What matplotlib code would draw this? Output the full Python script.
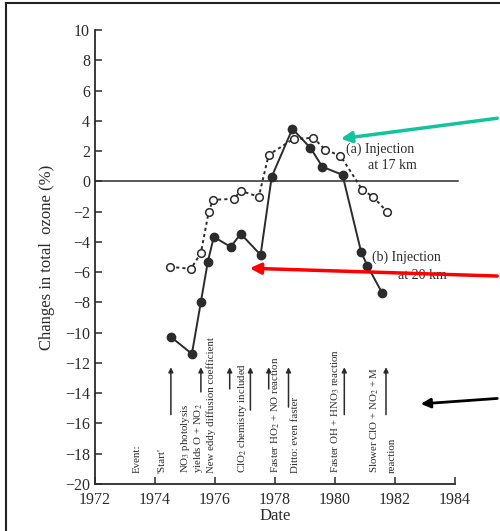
import matplotlib.pyplot as plt
from matplotlib.lines import Line2D

plt.rcParams['font.family'] = 'Liberation Serif'
plt.rcParams['mathtext.fontset'] = 'stix'

ink = '#2b2b2b'

# (a) injection at 17 km - open circles, dotted
years_a = [1974.50, 1975.20, 1975.53, 1975.79, 1975.93, 1976.62, 1976.86, 1977.46,
           1977.79, 1978.62, 1979.28, 1979.68, 1980.18, 1980.91, 1981.27, 1981.74]
ozone_a = [-5.65, -5.78, -4.73, -2.02, -1.22, -1.16, -0.63, -1.02,
           1.75, 2.81, 2.87, 2.08, 1.69, -0.56, -1.02, -2.02]

# (b) injection at 20 km - filled circles, solid
years_b = [1974.53, 1975.23, 1975.53, 1975.76, 1975.96, 1976.52, 1976.86, 1977.52,
           1977.89, 1978.58, 1979.18, 1979.58, 1980.25, 1980.87, 1981.08, 1981.57]
ozone_b = [-10.28, -11.40, -7.96, -5.32, -3.67, -4.33, -3.47, -4.86,
           0.30, 3.47, 2.21, 0.96, 0.43, -4.66, -5.58, -7.37]

# event arrows (year, bottom of arrow)
event_years = [1974.53, 1975.53, 1976.49, 1977.18, 1977.79, 1978.45, 1980.31, 1981.70]
event_bottoms = [-15.6, -14.1, -13.9, -15.3, -13.9, -15.1, -15.6, -15.6]

label_years = [1973.40, 1974.23, 1975.03, 1975.46, 1975.86, 1976.92,
               1978.02, 1978.68, 1980.01, 1981.34, 1981.91]
label_texts = ['Event:', "'Start'", 'NO$_3$ photolysis', 'yields O + NO$_2$',
               'New eddy diffusion coefficient', 'ClO$_2$ chemistry included',
               'Faster HO$_2$ + NO reaction', 'Ditto: even faster',
               'Faster OH + HNO$_3$ reaction', 'Slower ClO + NO$_2$ + M', 'reaction']

yticks = list(range(-20, 11, 2))
xticks = list(range(1972, 1985, 2))

fig = plt.figure(figsize=(5, 5.31), dpi=100)
ax = fig.add_axes([0.19, 0.0885, 0.72, 0.855])

ax.plot([1972, 1984.1], [0, 0], color=ink, lw=1.1, clip_on=False)
ax.plot(years_a, ozone_a, ls=(0, (1.6, 1.6)), color=ink, lw=1.4, marker='o',
        markersize=5.5, markerfacecolor='white', markeredgecolor=ink, markeredgewidth=1.1)
ax.plot(years_b, ozone_b, ls='-', color=ink, lw=1.4, marker='o',
        markersize=6, markerfacecolor=ink, markeredgecolor=ink)

for x, yb in zip(event_years, event_bottoms):
    ax.annotate('', xy=(x, -12.1), xytext=(x, yb),
                arrowprops=dict(arrowstyle='-|>', color=ink, lw=1.1, mutation_scale=7))

for x, t in zip(label_years, label_texts):
    ax.text(x, -19.3, t, rotation=90, ha='center', va='bottom', fontsize=7.8, color=ink)

ax.text(1980.35, 2.15, '(a) Injection', fontsize=10, color=ink, va='center')
ax.text(1981.1, 1.05, 'at 17 km', fontsize=10, color=ink, va='center')
ax.text(1981.25, -5.0, '(b) Injection', fontsize=10, color=ink, va='center')
ax.text(1982.1, -6.2, 'at 20 km', fontsize=10, color=ink, va='center')

ax.set_xlim(1972, 1984)
ax.set_ylim(-20, 10)
ax.set_xticks(xticks)
ax.set_yticks(yticks)
ax.tick_params(direction='in', length=5, width=1.1, colors=ink, labelsize=11.5)
ax.tick_params(axis='x', pad=6)
for s in ['top', 'right']:
    ax.spines[s].set_visible(False)
for s in ['left', 'bottom']:
    ax.spines[s].set_linewidth(1.3)
    ax.spines[s].set_color(ink)
ax.set_xlabel('Date', fontsize=12, color=ink, labelpad=0)
ax.set_ylabel('Changes in total  ozone (%)', fontsize=12, color=ink)
ax.yaxis.set_label_coords(-0.11, 0.5)

# border of the scanned page
fig.add_artist(Line2D([0.012, 0.012], [0.0, 0.994], color='#222222', lw=1.5))
fig.add_artist(Line2D([0.012, 1.0], [0.994, 0.994], color='#222222', lw=1.5))

# highlighting arrows laid over the figure
ax.annotate('', xy=(0.676, 0.738), xytext=(1.0, 0.778), xycoords='figure fraction',
            arrowprops=dict(arrowstyle='-|>', color='#12c49c', lw=2.5, mutation_scale=16))
ax.annotate('', xy=(0.494, 0.495), xytext=(1.0, 0.480), xycoords='figure fraction',
            arrowprops=dict(arrowstyle='-|>', color='#ff0000', lw=2.5, mutation_scale=16))
ax.annotate('', xy=(0.836, 0.239), xytext=(1.0, 0.250), xycoords='figure fraction',
            arrowprops=dict(arrowstyle='-|>', color='#000000', lw=2.0, mutation_scale=14))

fig.savefig('out.png', dpi=100)
